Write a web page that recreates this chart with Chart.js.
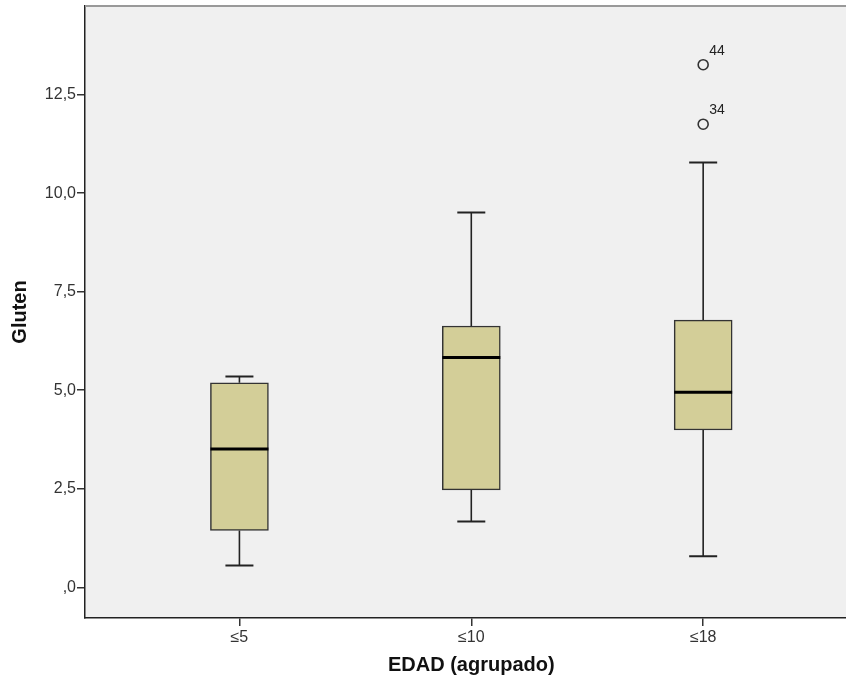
<!DOCTYPE html>
<html>
<head>
<meta charset="utf-8">
<script src="https://cdn.jsdelivr.net/npm/chart.js@4"></script>
<style>
  html, body { margin: 0; padding: 0; background: #fff; }
  #wrap { width: 846px; height: 684px; }
</style>
</head>
<body>
<div id="wrap"><canvas id="chart"></canvas></div>
<script>
// box plot values
const categories = ['≤5', '≤10', '≤18'];
const mins = [0.55, 1.67, 0.79];
const q1s = [1.44, 2.47, 3.99];
const medians = [3.51, 5.83, 4.95];
const q3s = [5.19, 6.63, 6.78];
const maxs = [5.35, 9.51, 10.78];
const outlierGroups = [3, 3];
const outlierValues = [13.26, 11.75];
const outlierIds = ['44', '34'];
const yTicks = [0, 2.5, 5, 7.5, 10, 12.5];

const FONT = "'Liberation Sans', Arial, sans-serif";

const boxPlugin = {
    id: 'boxParts',
    beforeDraw(chart) {
        const { ctx, chartArea: a } = chart;
        ctx.save();
        ctx.fillStyle = '#f0f0f0';
        ctx.fillRect(a.left, a.top, a.right - a.left, a.bottom - a.top);
        ctx.restore();
    },
    beforeDatasetsDraw(chart) {
        const { ctx, scales: { x, y } } = chart;
        ctx.save();
        ctx.strokeStyle = '#222';
        categories.forEach((c, i) => {
            const cx = x.getPixelForValue(i + 1);
            ctx.lineWidth = 1.6;
            ctx.beginPath();
            ctx.moveTo(cx, y.getPixelForValue(mins[i]));
            ctx.lineTo(cx, y.getPixelForValue(q1s[i]));
            ctx.moveTo(cx, y.getPixelForValue(q3s[i]));
            ctx.lineTo(cx, y.getPixelForValue(maxs[i]));
            ctx.stroke();
            ctx.lineWidth = 2;
            ctx.beginPath();
            ctx.moveTo(cx - 14, y.getPixelForValue(mins[i]));
            ctx.lineTo(cx + 14, y.getPixelForValue(mins[i]));
            ctx.moveTo(cx - 14, y.getPixelForValue(maxs[i]));
            ctx.lineTo(cx + 14, y.getPixelForValue(maxs[i]));
            ctx.stroke();
        });
        ctx.restore();
    },
    afterDatasetsDraw(chart) {
        const { ctx, scales: { x, y } } = chart;
        ctx.save();
        ctx.strokeStyle = '#000';
        ctx.lineWidth = 3;
        categories.forEach((c, i) => {
            const cx = x.getPixelForValue(i + 1);
            const my = y.getPixelForValue(medians[i]);
            ctx.beginPath();
            ctx.moveTo(cx - 29, my);
            ctx.lineTo(cx + 29, my);
            ctx.stroke();
        });
        ctx.fillStyle = '#222';
        ctx.font = '14px ' + FONT;
        ctx.textAlign = 'left';
        ctx.textBaseline = 'alphabetic';
        outlierValues.forEach((v, i) => {
            const px = x.getPixelForValue(outlierGroups[i]);
            const py = y.getPixelForValue(v);
            ctx.fillText(outlierIds[i], px + 6, py - 10);
        });
        ctx.restore();
    },
    afterDraw(chart) {
        const { ctx, chartArea: a, scales: { x } } = chart;
        ctx.save();
        ctx.strokeStyle = '#999';
        ctx.lineWidth = 2;
        ctx.beginPath();
        ctx.moveTo(a.left, a.top);
        ctx.lineTo(a.right, a.top);
        ctx.stroke();
        ctx.fillStyle = '#111';
        ctx.font = 'bold 20px ' + FONT;
        ctx.textAlign = 'center';
        ctx.textBaseline = 'middle';
        ctx.fillText('EDAD (agrupado)', x.getPixelForValue(2), 665);
        ctx.restore();
    }
};

new Chart(document.getElementById('chart'), {
    type: 'bar',
    data: {
        datasets: [
            {
                type: 'bar',
                data: categories.map((c, i) => ({ x: i + 1, y: [q1s[i], q3s[i]] })),
                backgroundColor: '#d3ce98',
                borderColor: '#333',
                borderWidth: 1.5,
                borderSkipped: false,
                barThickness: 58
            },
            {
                type: 'scatter',
                data: outlierValues.map((v, i) => ({ x: outlierGroups[i], y: v })),
                pointStyle: 'circle',
                pointRadius: 5,
                pointBorderWidth: 1.6,
                pointBackgroundColor: 'rgba(0,0,0,0)',
                borderColor: '#333'
            }
        ]
    },
    options: {
        responsive: true,
        maintainAspectRatio: false,
        animation: false,
        layout: { autoPadding: false, padding: { top: 6, right: 0, left: 0, bottom: 0 } },
        plugins: { legend: { display: false }, tooltip: { enabled: false } },
        scales: {
            x: {
                type: 'linear',
                offset: false,
                min: 0.334,
                max: 3.616,
                afterBuildTicks: s => { s.ticks = categories.map((c, i) => ({ value: i + 1 })); },
                afterFit: s => { s.height = 66; s.paddingLeft = 0; s.paddingRight = 0; },
                ticks: {
                    callback: (v, i) => categories[i],
                    color: '#333',
                    font: { family: FONT, size: 16 },
                    padding: 2,
                    maxRotation: 0
                },
                grid: { display: true, offset: false, drawOnChartArea: false, drawTicks: true, tickLength: 8, color: '#333', lineWidth: 1.5 },
                border: { display: true, color: '#222', width: 1.5 }
            },
            y: {
                min: -0.78,
                max: 14.75,
                afterBuildTicks: s => { s.ticks = yTicks.map(v => ({ value: v })); },
                afterFit: s => { s.width = 85; s.paddingTop = 0; s.paddingBottom = 0; },
                ticks: {
                    callback: v => v === 0 ? ',0' : v.toFixed(1).replace('.', ','),
                    color: '#333',
                    font: { family: FONT, size: 16 },
                    padding: 1
                },
                grid: { display: true, drawOnChartArea: false, drawTicks: true, tickLength: 8, color: '#333', lineWidth: 1.5 },
                border: { display: true, color: '#222', width: 1.5 },
                title: {
                    display: true,
                    text: 'Gluten',
                    color: '#111',
                    font: { family: FONT, size: 20, weight: 'bold' },
                    padding: { top: 8, bottom: 0 }
                }
            }
        }
    },
    plugins: [boxPlugin]
});
</script>
</body>
</html>
